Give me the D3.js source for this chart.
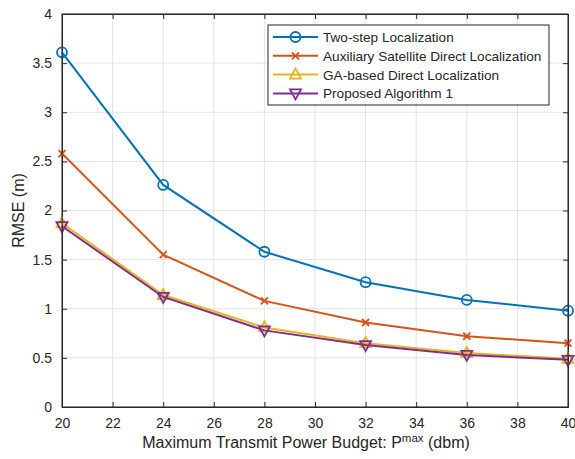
<!DOCTYPE html>
<html>
<head>
<style>
body{margin:0;background:#fff;}
text{font-family:"Liberation Sans",Arial,sans-serif;fill:#262626;}
</style>
</head>
<body>
<svg id="svg"></svg>
<script src="https://cdnjs.cloudflare.com/ajax/libs/d3/7.8.5/d3.min.js"></script>
<script>
var powers = [20, 24, 28, 32, 36, 40]
var twoStep = [3.61, 2.26, 1.58, 1.27, 1.09, 0.98]
var auxiliary = [2.58, 1.55, 1.08, 0.86, 0.72, 0.65]
var gaBased = [1.87, 1.14, 0.81, 0.65, 0.55, 0.49]
var proposed = [1.84, 1.12, 0.78, 0.63, 0.53, 0.48]
var seriesNames = ['Two-step Localization', 'Auxiliary Satellite Direct Localization', 'GA-based Direct Localization', 'Proposed Algorithm 1']
var xTicks = [20, 22, 24, 26, 28, 30, 32, 34, 36, 38, 40]
var yTicks = [0, 0.5, 1, 1.5, 2, 2.5, 3, 3.5, 4]

var W = 575, H = 459
var margin = {top: 14, right: 7, bottom: 52, left: 62}
var width = W - margin.left - margin.right,
    height = H - margin.top - margin.bottom

var series = [
  {name: seriesNames[0], vals: twoStep, color: '#0072BD', marker: 'circle'},
  {name: seriesNames[1], vals: auxiliary, color: '#D95319', marker: 'x'},
  {name: seriesNames[2], vals: gaBased, color: '#EDB120', marker: 'tri'},
  {name: seriesNames[3], vals: proposed, color: '#7E2F8E', marker: 'tridown'}
]

var svg = d3.select('#svg').attr('width', W).attr('height', H)
var chart = svg.append('g').attr('transform', 'translate(' + margin.left + ',' + margin.top + ')')

var x = d3.scaleLinear().domain([20, 40]).range([0, width])
var y = d3.scaleLinear().domain([0, 4]).range([height, 0])

// grid
chart.append('g').selectAll('line').data(xTicks).enter().append('line')
  .attr('x1', d => x(d)).attr('x2', d => x(d)).attr('y1', 0).attr('y2', height)
  .attr('stroke', '#e3e3e3').attr('stroke-width', 1)
chart.append('g').selectAll('line').data(yTicks).enter().append('line')
  .attr('y1', d => y(d)).attr('y2', d => y(d)).attr('x1', 0).attr('x2', width)
  .attr('stroke', '#e3e3e3').attr('stroke-width', 1)

function styleAxis(g) {
  g.selectAll('path').attr('stroke', '#262626')
  g.selectAll('line').attr('stroke', '#262626')
  g.selectAll('text').attr('font-size', 14).attr('fill', '#262626')
    .attr('font-family', '"Liberation Sans",Arial,sans-serif')
}
var xAxis = chart.append('g').attr('transform', 'translate(0,' + height + ')')
  .call(d3.axisBottom(x).tickValues(xTicks).tickSizeInner(-5).tickSizeOuter(0).tickPadding(11))
styleAxis(xAxis)
var yAxis = chart.append('g')
  .call(d3.axisLeft(y).tickValues(yTicks).tickFormat(d3.format('')).tickSizeInner(-5).tickSizeOuter(0).tickPadding(10))
styleAxis(yAxis)
var xTop = chart.append('g').call(d3.axisTop(x).tickValues(xTicks).tickSizeInner(-5).tickSizeOuter(0).tickFormat(''))
styleAxis(xTop)
var yRight = chart.append('g').attr('transform', 'translate(' + width + ',0)')
  .call(d3.axisRight(y).tickValues(yTicks).tickSizeInner(-5).tickSizeOuter(0).tickFormat(''))
styleAxis(yRight)

var line = d3.line().x((d, i) => x(powers[i])).y(d => y(d))

function drawMarker(g, type, color, cx, cy) {
  if (type === 'circle') {
    g.append('circle').attr('cx', cx).attr('cy', cy).attr('r', 5)
      .attr('fill', 'none').attr('stroke', color).attr('stroke-width', 1.8)
  } else if (type === 'x') {
    var s = 3.5
    g.append('path').attr('d', 'M' + (cx - s) + ',' + (cy - s) + 'L' + (cx + s) + ',' + (cy + s) + 'M' + (cx - s) + ',' + (cy + s) + 'L' + (cx + s) + ',' + (cy - s))
      .attr('stroke', color).attr('stroke-width', 1.8)
  } else if (type === 'tri') {
    g.append('path').attr('d', 'M' + cx + ',' + (cy - 6) + 'L' + (cx + 5.5) + ',' + (cy + 4) + 'L' + (cx - 5.5) + ',' + (cy + 4) + 'Z')
      .attr('fill', 'none').attr('stroke', color).attr('stroke-width', 1.8)
  } else {
    g.append('path').attr('d', 'M' + cx + ',' + (cy + 6) + 'L' + (cx + 5.5) + ',' + (cy - 4) + 'L' + (cx - 5.5) + ',' + (cy - 4) + 'Z')
      .attr('fill', 'none').attr('stroke', color).attr('stroke-width', 1.8)
  }
}

series.forEach(function(s) {
  var g = chart.append('g')
  g.append('path').datum(s.vals).attr('d', line)
    .attr('fill', 'none').attr('stroke', s.color).attr('stroke-width', 2)
  s.vals.forEach(function(v, i) { drawMarker(g, s.marker, s.color, x(powers[i]), y(v)) })
})

// box outline
chart.append('rect').attr('width', width).attr('height', height)
  .attr('fill', 'none').attr('stroke', '#262626').attr('stroke-width', 1)

// legend
var lg = svg.append('g').attr('transform', 'translate(268,25)')
lg.append('rect').attr('width', 281).attr('height', 80)
  .attr('fill', '#fff').attr('stroke', '#262626').attr('stroke-width', 1)
series.forEach(function(s, i) {
  var ly = 12 + i * 18.8
  lg.append('line').attr('x1', 5).attr('x2', 50).attr('y1', ly).attr('y2', ly)
    .attr('stroke', s.color).attr('stroke-width', 2)
  drawMarker(lg, s.marker, s.color, 27.5, ly)
  lg.append('text').attr('x', 55).attr('y', ly + 5).attr('font-size', 13.6).text(s.name)
})

// axis labels
svg.append('text').attr('x', 306).attr('y', 448)
  .attr('text-anchor', 'middle').attr('font-size', 16)
  .html('Maximum Transmit Power Budget: P<tspan dy="-6" font-size="11.5">max</tspan><tspan dy="6"> (dbm)</tspan>')
svg.append('text').attr('transform', 'translate(24,' + (margin.top + height / 2) + ') rotate(-90)')
  .attr('text-anchor', 'middle').attr('font-size', 16).text('RMSE (m)')
</script>
</body>
</html>
